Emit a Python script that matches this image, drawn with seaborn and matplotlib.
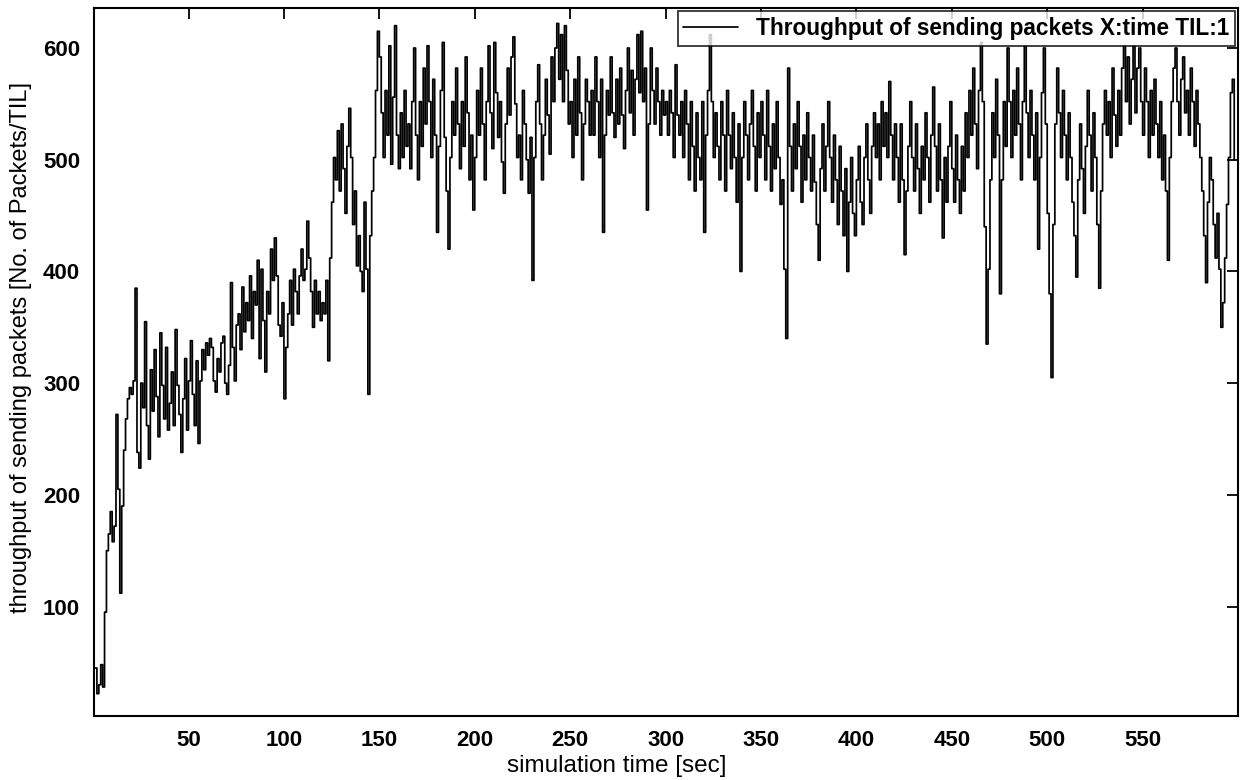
import numpy as np
import pandas as pd
import matplotlib
matplotlib.use("Agg")
import matplotlib.pyplot as plt
import seaborn as sns

# throughput per TIL, one value per second (t = 1..598)
throughput = [
    45, 22, 30, 48, 28, 95, 150, 165, 185, 158, 172, 272, 205, 112, 190, 240, 268, 286, 296, 290,
    302, 385, 238, 224, 300, 278, 355, 262, 232, 312, 275, 330, 288, 252, 345, 298, 268, 332, 258, 282,
    310, 262, 348, 298, 272, 238, 286, 322, 258, 302, 338, 290, 262, 320, 246, 302, 330, 312, 336, 325,
    340, 332, 302, 292, 322, 310, 336, 342, 300, 290, 316, 390, 332, 302, 352, 362, 330, 386, 346, 372,
    356, 396, 340, 382, 370, 410, 322, 402, 356, 310, 382, 362, 420, 392, 430, 396, 352, 342, 372, 286,
    332, 362, 392, 352, 402, 382, 362, 396, 420, 392, 402, 445, 412, 382, 350, 392, 362, 382, 356, 372,
    362, 392, 320, 412, 462, 502, 482, 526, 472, 532, 492, 452, 512, 546, 502, 442, 472, 405, 432, 400,
    382, 462, 402, 290, 432, 472, 502, 562, 615, 592, 542, 502, 562, 522, 602, 496, 556, 620, 522, 492,
    542, 502, 562, 512, 532, 492, 552, 600, 522, 482, 552, 512, 582, 532, 602, 552, 502, 572, 522, 435,
    512, 562, 605, 520, 472, 420, 502, 552, 522, 582, 532, 492, 552, 512, 592, 542, 482, 522, 455, 502,
    562, 522, 582, 532, 482, 552, 602, 542, 510, 605, 560, 520, 552, 498, 470, 532, 582, 540, 592, 610,
    550, 502, 522, 482, 562, 532, 500, 470, 520, 392, 502, 552, 585, 532, 482, 522, 572, 540, 505, 592,
    552, 600, 622, 572, 612, 552, 620, 580, 532, 552, 502, 572, 522, 592, 542, 482, 532, 572, 552, 522,
    562, 522, 592, 552, 502, 572, 435, 522, 562, 540, 592, 542, 520, 572, 532, 582, 540, 510, 562, 600,
    542, 580, 522, 572, 612, 560, 615, 552, 582, 455, 532, 600, 562, 532, 582, 552, 522, 562, 540, 552,
    522, 562, 542, 502, 585, 540, 522, 552, 502, 562, 532, 482, 552, 512, 472, 542, 502, 482, 552, 435,
    522, 562, 612, 552, 502, 542, 512, 482, 552, 522, 472, 562, 522, 492, 542, 502, 462, 532, 400, 502,
    552, 522, 482, 532, 562, 512, 472, 542, 502, 552, 522, 482, 562, 512, 472, 532, 492, 552, 502, 460,
    482, 402, 340, 582, 512, 472, 532, 492, 552, 512, 462, 522, 482, 542, 502, 472, 522, 480, 442, 410,
    492, 532, 472, 512, 552, 502, 462, 522, 482, 442, 512, 472, 432, 492, 400, 462, 502, 452, 432, 482,
    512, 462, 442, 502, 532, 482, 452, 512, 542, 502, 532, 482, 552, 512, 542, 502, 570, 522, 482, 532,
    502, 462, 532, 482, 415, 472, 512, 552, 502, 472, 532, 492, 452, 512, 482, 542, 502, 462, 522, 565,
    512, 472, 532, 482, 430, 502, 462, 512, 552, 492, 462, 522, 482, 452, 512, 472, 542, 502, 562, 522,
    582, 532, 492, 562, 605, 552, 440, 335, 402, 482, 542, 502, 572, 522, 380, 482, 552, 512, 600, 552,
    502, 562, 522, 582, 532, 482, 552, 602, 542, 502, 562, 522, 482, 542, 420, 502, 560, 600, 532, 452,
    380, 305, 442, 532, 582, 542, 502, 562, 522, 482, 542, 502, 462, 432, 395, 482, 532, 492, 452, 512,
    562, 522, 472, 542, 502, 442, 385, 472, 532, 562, 522, 552, 502, 582, 540, 512, 562, 522, 582, 602,
    552, 592, 532, 572, 602, 542, 582, 600, 552, 522, 582, 552, 502, 562, 522, 572, 532, 502, 552, 482,
    522, 472, 410, 502, 552, 582, 600, 552, 522, 572, 592, 542, 562, 522, 582, 552, 512, 562, 532, 502,
    472, 432, 390, 462, 502, 482, 442, 412, 452, 402, 350, 372, 412, 460, 502, 560, 572, 500,
]
sim_time = list(range(1, len(throughput) + 1))

x_ticks = [50, 100, 150, 200, 250, 300, 350, 400, 450, 500, 550]
y_ticks = [100, 200, 300, 400, 500, 600]

df = pd.DataFrame({"time": sim_time, "throughput": throughput})

sns.set_theme(style="white")
plt.rcParams['font.family'] = ['Liberation Sans', 'DejaVu Sans']

fig = plt.figure(figsize=(12.44, 7.8), dpi=100)
ax = fig.add_axes([0.0756, 0.082, 0.9196, 0.908])

# stair-like trace, as in the original MATLAB figure
sns.lineplot(data=df, x="time", y="throughput", ax=ax, color="black",
             linewidth=1.25, drawstyle="steps-post",
             label="Throughput of sending packets X:time TIL:1")

ax.set_xlim(0.5, 600)
ax.set_ylim(2, 636)
ax.set_xticks(x_ticks)
ax.set_yticks(y_ticks)
ax.tick_params(direction="in", length=8, width=1.3, top=True, right=True,
               labelsize=16, colors="black", pad=10)
for lbl in ax.get_xticklabels() + ax.get_yticklabels():
    lbl.set_fontweight("bold")
for sp in ax.spines.values():
    sp.set_color("black")
    sp.set_linewidth(1.5)

ax.set_xlabel("simulation time [sec]", fontsize=17.5, color="black")
ax.set_ylabel("throughput of sending packets [No. of Packets/TIL]", fontsize=17,
              color="black")
ax.xaxis.set_label_coords(0.457, -0.055)
ax.yaxis.set_label_coords(-0.054, 0.52)

leg = ax.legend(loc="upper right", frameon=True, fancybox=False,
                borderaxespad=0.15, handlelength=2.4, borderpad=0.25,
                labelcolor="black", prop={"weight": "bold", "size": 16.3})
leg.get_frame().set_edgecolor("black")
leg.get_frame().set_linewidth(1.3)

fig.savefig("out.png", dpi=100)
